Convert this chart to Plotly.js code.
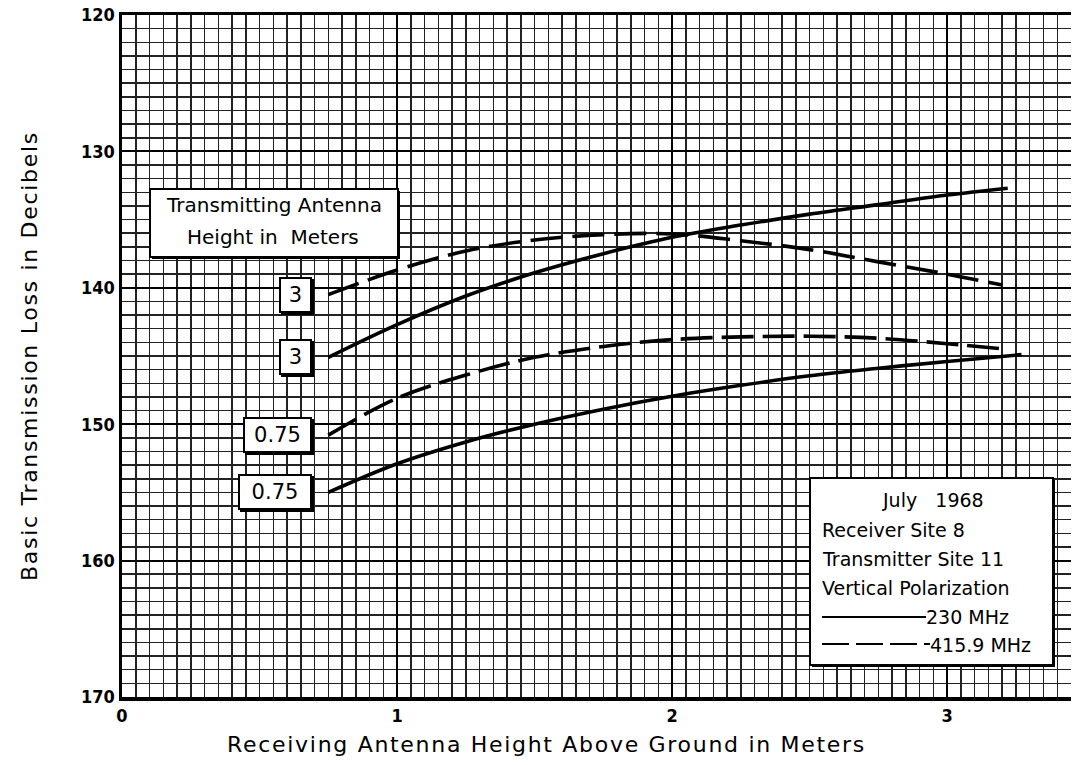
<!DOCTYPE html>
<html><head><meta charset="utf-8">
<script src="https://cdn.plot.ly/plotly-3.0.1.min.js"></script>
<style>html,body{margin:0;padding:0;background:#fff}
.xtitle,.ytitle{letter-spacing:1.7px}
.xtitle{transform:translateX(-50px)}</style>
</head><body><div id="chart" style="width:1078px;height:765px"></div>
<script>
// Receiving antenna height (m) and basic transmission loss (dB)
const x230_tx3 = [0.75, 1.0, 1.25, 1.5, 1.75, 2.0, 2.25, 2.5, 2.75, 3.0, 3.22];
const y230_tx3 = [145.1, 142.7, 140.6, 138.9, 137.5, 136.3, 135.4, 134.6, 133.9, 133.2, 132.7];
const x416_tx3 = [0.75, 1.0, 1.25, 1.5, 1.75, 2.0, 2.25, 2.5, 2.75, 3.0, 3.2];
const y416_tx3 = [140.5, 138.7, 137.3, 136.5, 136.1, 136.05, 136.55, 137.2, 138.1, 139.0, 139.8];
const x416_tx075 = [0.75, 1.0, 1.25, 1.5, 1.75, 2.0, 2.25, 2.5, 2.75, 3.0, 3.21];
const y416_tx075 = [150.8, 148.1, 146.4, 145.1, 144.3, 143.8, 143.6, 143.55, 143.7, 144.1, 144.5];
const x230_tx075 = [0.75, 1.0, 1.25, 1.5, 1.75, 2.0, 2.25, 2.5, 2.75, 3.0, 3.27];
const y230_tx075 = [155.0, 152.9, 151.3, 150.0, 148.9, 147.95, 147.15, 146.45, 145.9, 145.4, 144.9];

const xTickVals = [0, 1, 2, 3];
const xTickText = ['0', '1', '2', '3'];
const yTickVals = [120, 130, 140, 150, 160, 170];
const yTickText = ['120', '130', '140', '150', '160', '170'];

const curveLabels = ['3', '3', '0.75', '0.75'];
const infoLines = ['Receiver Site 8', 'Transmitter Site 11', 'Vertical Polarization'];
const infoDate = 'July\u00a0\u00a0\u00a01968';
const freqNames = ['230 MHz', '415.9 MHz'];
const boxTitle = ['Transmitting Antenna', 'Height in\u00a0\u00a0Meters'];
const xTitle = 'Receiving Antenna Height Above Ground in Meters';
const yTitle = 'Basic Transmission Loss in Decibels';

const W = 1078, H = 765;
const M = {l: 122, r: 7, t: 15, b: 68};
const PW = W - M.l - M.r, PH = H - M.t - M.b;
const px = v => (v - M.l) / PW;
const py = v => 1 - (v - M.t) / PH;

const TXT = 'DejaVu Sans, Verdana, sans-serif';
const TICK = 'DejaVu Sans Condensed, Liberation Sans Narrow, sans-serif';
const LW = 3.6;

const traces = [
  {x: x230_tx3, y: y230_tx3, name: '230 MHz, 3 m', mode: 'lines',
   line: {color: '#000', width: LW, shape: 'spline'}},
  {x: x416_tx3, y: y416_tx3, name: '415.9 MHz, 3 m', mode: 'lines',
   line: {color: '#000', width: LW, shape: 'spline', dash: '32px,10px'}},
  {x: x416_tx075, y: y416_tx075, name: '415.9 MHz, 0.75 m', mode: 'lines',
   line: {color: '#000', width: LW, shape: 'spline', dash: '32px,9px'}},
  {x: x230_tx075, y: y230_tx075, name: '230 MHz, 0.75 m', mode: 'lines',
   line: {color: '#000', width: LW, shape: 'spline'}}
];
traces.forEach(t => { t.showlegend = false; t.hoverinfo = 'skip'; });

// Labels attached to the start of each curve
const starts = [
  {x: x416_tx3[0], y: y416_tx3[0], t: curveLabels[0], w: 27},
  {x: x230_tx3[0], y: y230_tx3[0], t: curveLabels[1], w: 27},
  {x: x416_tx075[0], y: y416_tx075[0], t: curveLabels[2], w: 63},
  {x: x230_tx075[0], y: y230_tx075[0], t: curveLabels[3], w: 68}
];
const annotations = [];
starts.forEach(s => {
  annotations.push({x: s.x, y: s.y, xref: 'x', yref: 'y', text: s.t, showarrow: false,
    xanchor: 'right', yanchor: 'middle', xshift: -14, yshift: -2, width: s.w, height: 30,
    bgcolor: '#000', bordercolor: '#000', borderwidth: 2, borderpad: 1,
    font: {family: TXT, size: 21, color: '#000'}});
  annotations.push({x: s.x, y: s.y, xref: 'x', yref: 'y', text: s.t, showarrow: false,
    xanchor: 'right', yanchor: 'middle', xshift: -16, width: s.w, height: 30,
    bgcolor: '#fff', bordercolor: '#000', borderwidth: 2, borderpad: 1,
    font: {family: TXT, size: 21, color: '#000'}});
});
// title box text
annotations.push({x: px(274), y: py(205), xref: 'paper', yref: 'paper', text: boxTitle[0],
  showarrow: false, xanchor: 'center', yanchor: 'middle', font: {family: TXT, size: 20, color: '#000'}});
annotations.push({x: px(273), y: py(237), xref: 'paper', yref: 'paper', text: boxTitle[1],
  showarrow: false, xanchor: 'center', yanchor: 'middle', font: {family: TXT, size: 20, color: '#000'}});
// info box text
annotations.push({x: px(933), y: py(500), xref: 'paper', yref: 'paper', text: infoDate,
  showarrow: false, xanchor: 'center', yanchor: 'middle', font: {family: TXT, size: 19, color: '#000'}});
infoLines.forEach((s, i) => {
  annotations.push({x: px(820), y: py(530 + i * 29), xref: 'paper', yref: 'paper', text: s,
    showarrow: false, xanchor: 'left', yanchor: 'middle', font: {family: TXT, size: 19, color: '#000'}});
});
annotations.push({x: px(924), y: py(617), xref: 'paper', yref: 'paper', text: freqNames[0],
  showarrow: false, xanchor: 'left', yanchor: 'middle', font: {family: TXT, size: 19, color: '#000'}});
annotations.push({x: px(928), y: py(645), xref: 'paper', yref: 'paper', text: freqNames[1],
  showarrow: false, xanchor: 'left', yanchor: 'middle', font: {family: TXT, size: 19, color: '#000'}});

const shapes = [
  // title box (shadow + box)
  {type: 'rect', xref: 'paper', yref: 'paper', x0: px(152), x1: px(400), y0: py(259), y1: py(191),
   fillcolor: '#000', line: {width: 0}, layer: 'above'},
  {type: 'rect', xref: 'paper', yref: 'paper', x0: px(150), x1: px(398), y0: py(257), y1: py(189),
   fillcolor: '#fff', line: {color: '#000', width: 2}, layer: 'above'},
  // info box
  {type: 'rect', xref: 'paper', yref: 'paper', x0: px(812), x1: px(1055), y0: py(667), y1: py(480),
   fillcolor: '#000', line: {width: 0}, layer: 'above'},
  {type: 'rect', xref: 'paper', yref: 'paper', x0: px(810), x1: px(1053), y0: py(665), y1: py(478),
   fillcolor: '#fff', line: {color: '#000', width: 2}, layer: 'above'},
  // key samples
  {type: 'line', xref: 'paper', yref: 'paper', x0: px(822), x1: px(926), y0: py(617), y1: py(617),
   line: {color: '#000', width: 2}, layer: 'above'},
  {type: 'line', xref: 'paper', yref: 'paper', x0: px(822), x1: px(930), y0: py(644), y1: py(644),
   line: {color: '#000', width: 2, dash: '27px,7px'}, layer: 'above'}
];

const layout = {
  width: W, height: H, margin: M, paper_bgcolor: '#fff', plot_bgcolor: '#fff',
  showlegend: false, annotations: annotations, shapes: shapes,
  xaxis: {
    range: [0, 3.45], tickvals: xTickVals, ticktext: xTickText, ticks: '',
    showgrid: true, gridcolor: '#000', gridwidth: 2,
    minor: {dtick: 0.05, tick0: 0, showgrid: true, gridcolor: '#222', gridwidth: 1.5, ticks: ''},
    showline: true, linecolor: '#000', linewidth: 3.5, mirror: true, zeroline: false,
    tickfont: {family: TICK, size: 18, color: '#000', weight: 'bold'},
    title: {text: xTitle, standoff: 12,
            font: {family: TXT, size: 22, color: '#000'}},
    automargin: false
  },
  yaxis: {
    range: [170, 120], tickvals: yTickVals, ticktext: yTickText, ticks: '',
    showgrid: true, gridcolor: '#000', gridwidth: 2,
    minor: {dtick: 1, tick0: 120, showgrid: true, gridcolor: '#222', gridwidth: 1.5, ticks: ''},
    showline: true, linecolor: '#000', linewidth: 3.5, mirror: false, zeroline: false,
    tickfont: {family: TICK, size: 18, color: '#000', weight: 'bold'},
    title: {text: yTitle, standoff: 38,
            font: {family: TXT, size: 22, color: '#000'}},
    automargin: false
  }
};

Plotly.newPlot('chart', traces, layout, {staticPlot: true, displayModeBar: false});
</script></body></html>
